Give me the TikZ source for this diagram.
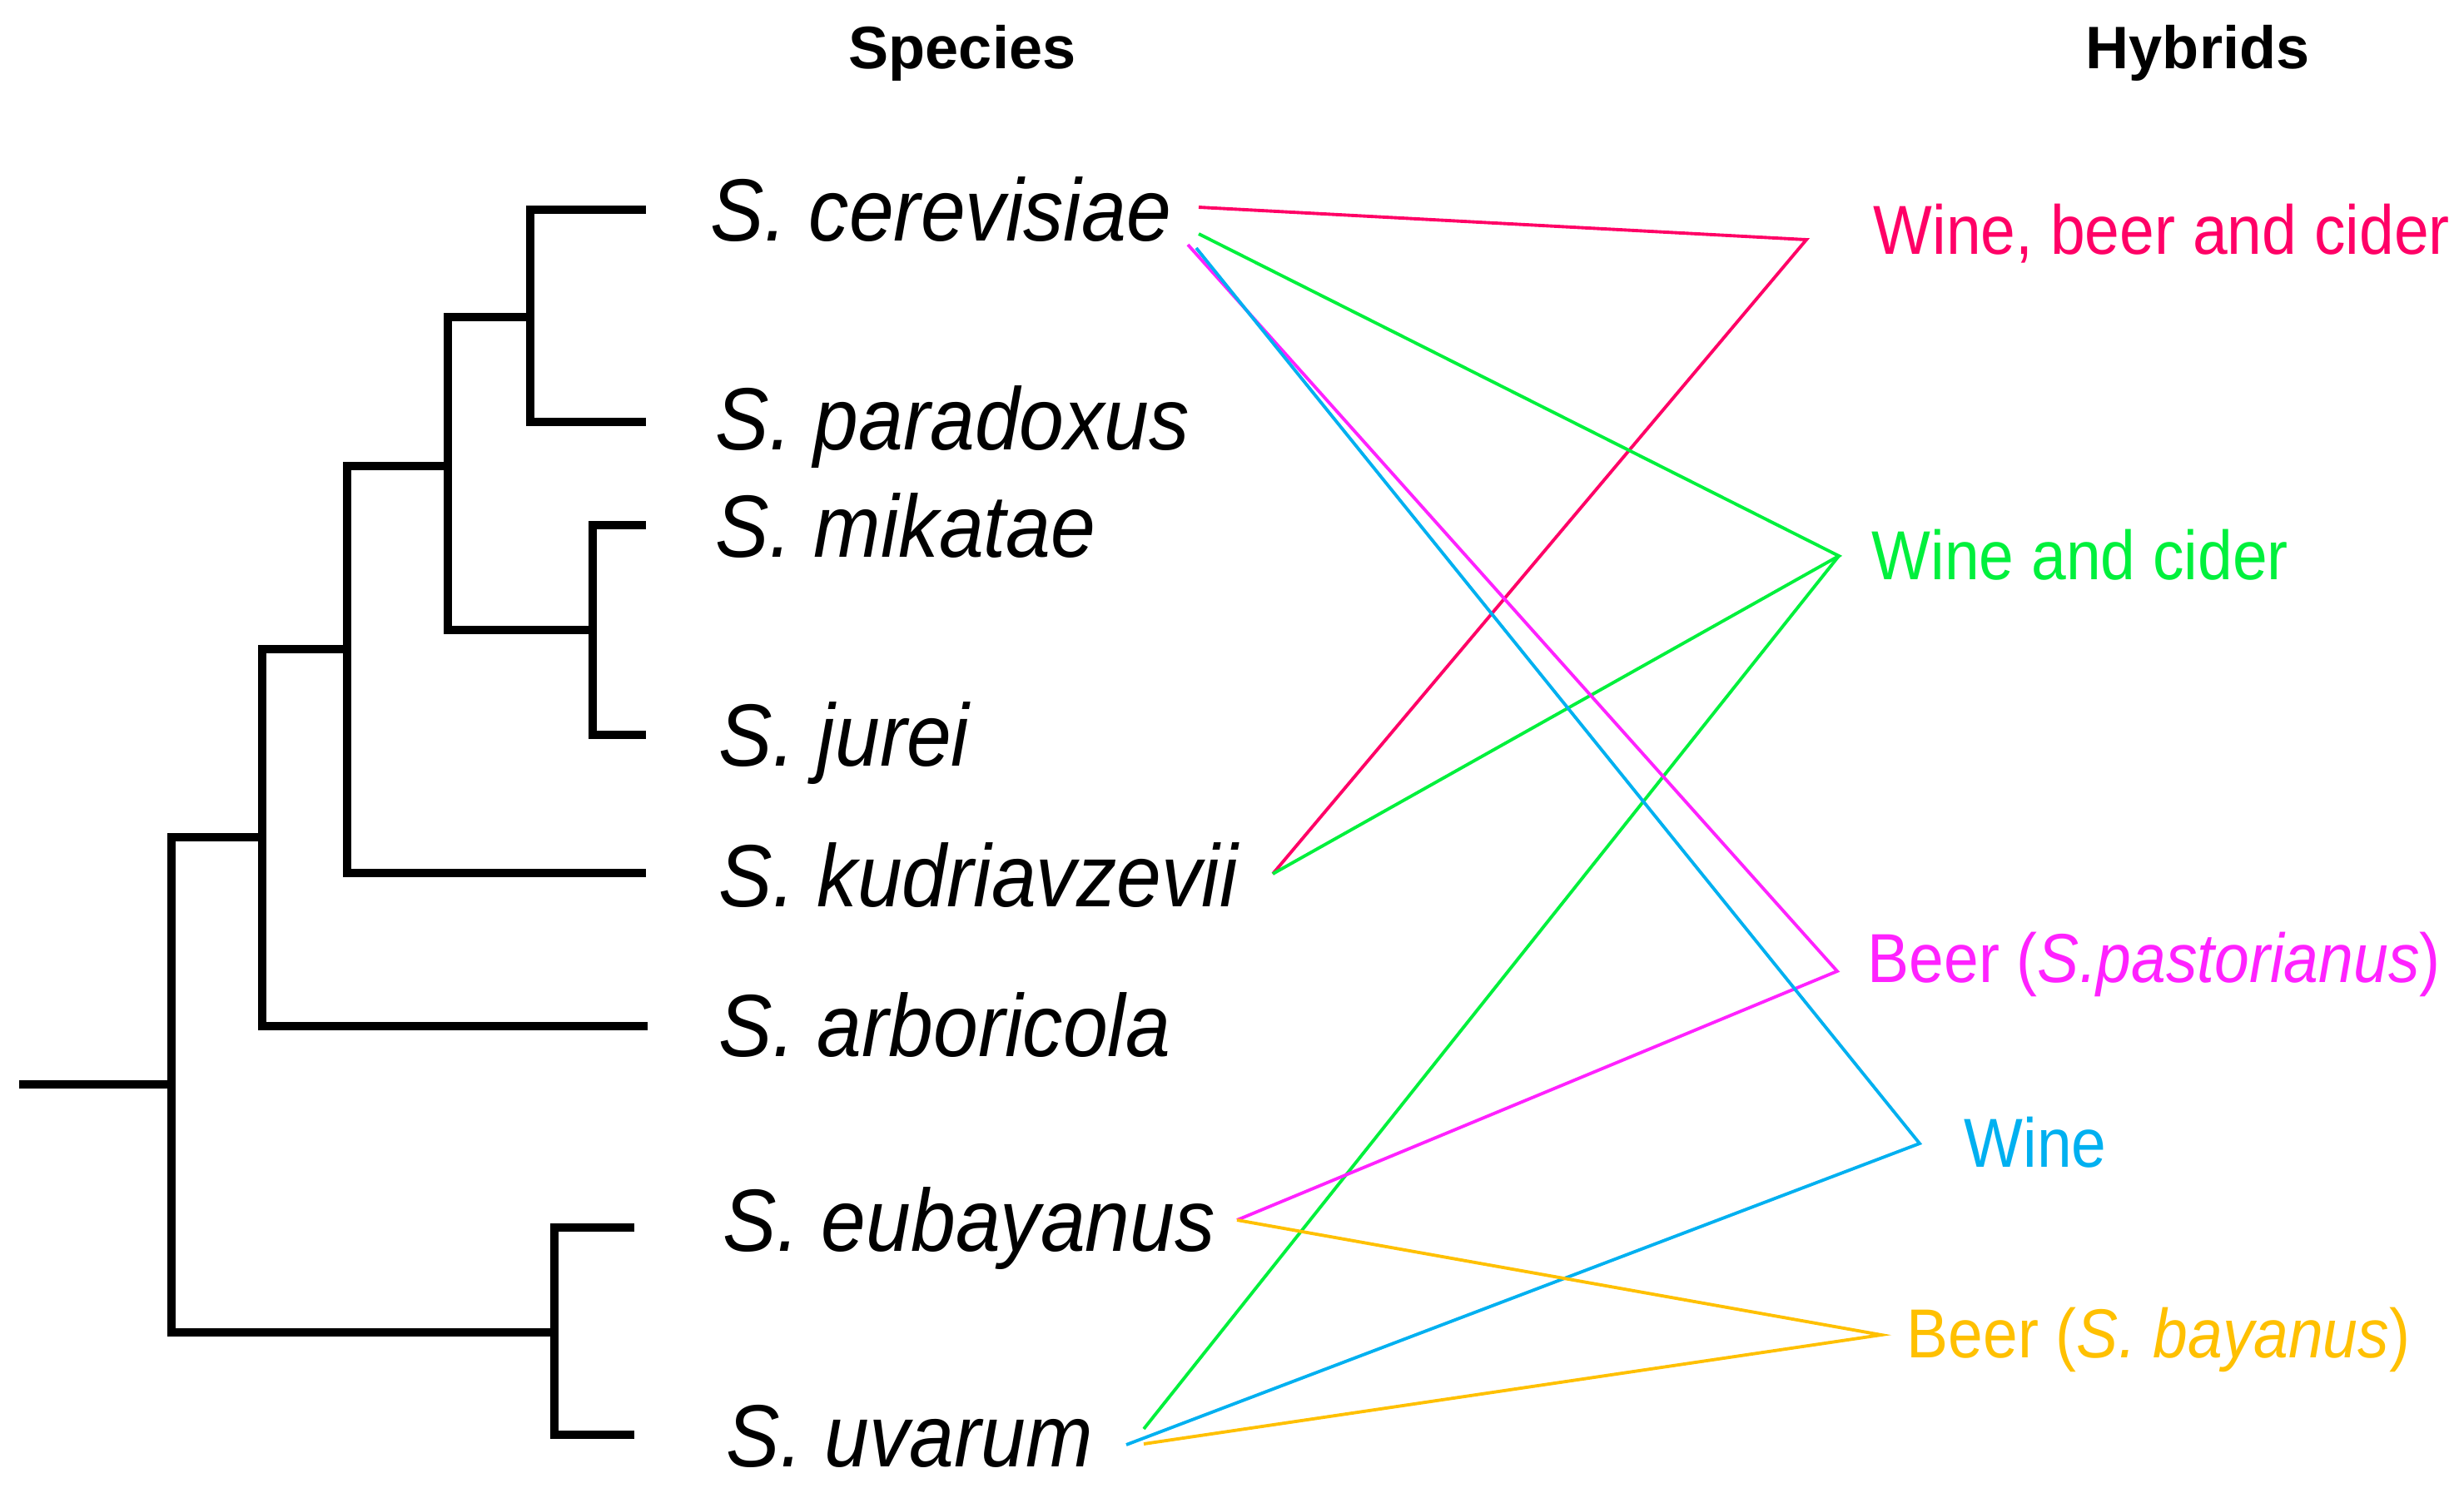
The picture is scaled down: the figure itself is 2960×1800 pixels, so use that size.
\documentclass[tikz,border=0pt]{standalone}
\usepackage{fontspec}
\setmainfont{Liberation Sans}
\newfontfamily\narrowsans[FakeStretch=0.9]{Liberation Sans}
\newfontfamily\speciessans[FakeStretch=0.91]{Liberation Sans}
\usepackage{xcolor}
\usepackage{tikz}
\usetikzlibrary{calc}
\definecolor{wbc}{HTML}{FF0066}
\definecolor{wandc}{HTML}{00F03C}
\definecolor{pasto}{HTML}{FF22FF}
\definecolor{wine}{HTML}{00B0F0}
\definecolor{bayan}{HTML}{FFC000}
\newcommand\speciesfont{\speciessans\fontsize{30.2}{36}\selectfont\itshape}
\newcommand\hybfont{\narrowsans\fontsize{23.7}{29}\selectfont}
\tikzset{
  branch/.style={draw=black, line width=2.8pt, line join=miter},
  link/.style={line width=1.1pt},
  sp/.style={anchor=base west, inner sep=0pt, font=\speciesfont},
  hyb/.style={anchor=base west, inner sep=0pt, font=\hybfont},
  head/.style={anchor=base, inner sep=0pt, font=\fontsize{20.5}{25}\selectfont\bfseries}
}

\begin{document}
\begin{tikzpicture}[x=0.01cm, y=-0.01cm]
  \useasboundingbox (0,0) rectangle (2960,1800);

  % headers
  \node[head] (hsp) at (1156,83) {Species};
  \node[head] (hhy) at (2640,83) {Hybrids};

  % tree
  \draw[branch] (776,252) -| (637,507) -- (776,507);
  \draw[branch] (776,631) -| (712,883) -- (776,883);
  \draw[branch] (637,381) -| (538,757) -- (712,757);
  \draw[branch] (538,560) -| (417,1049) -- (776,1049);
  \draw[branch] (417,780) -| (315,1233) -- (778,1233);
  \draw[branch] (315,1006) -| (206,1601) -- (666,1601);
  \draw[branch] (762,1475) -| (666,1724) -- (762,1724);
  \draw[branch] (23,1303) -- (206,1303);

  % species
  \node[sp] (cer) at (853,290) {S. cerevisiae};
  \node[sp] (par) at (859,540) {S. paradoxus};
  \node[sp] (mik) at (859,669) {S. mikatae};
  \node[sp] (jur) at (863,920) {S. jurei};
  \node[sp] (kud) at (863,1089) {S. kudriavzevii};
  \node[sp] (arb) at (863,1269) {S. arboricola};
  \node[sp] (eub) at (868,1503) {S. eubayanus};
  \node[sp] (uva) at (872,1762) {S. uvarum};

  % hybrids
  \node[hyb, text=wbc] (wbc) at (2250,306) {Wine, beer and cider};
  \node[hyb, text=wandc] (wac) at (2248,696) {Wine and cider};
  \node[hyb, text=pasto] (pas) at (2243,1180) {Beer ({\itshape S.pastorianus})};
  \node[hyb, text=wine] (win) at (2359,1402) {Wine};
  \node[hyb, text=bayan] (bay) at (2290,1631) {Beer ({\itshape S. bayanus})};

  % line ends
  \coordinate (cer-1) at (1440,249);
  \coordinate (cer-2) at (1440,281);
  \coordinate (cer-3) at (1427,294);
  \coordinate (cer-4) at (1437,298);
  \coordinate (kud-1) at (1529,1050);
  \coordinate (eub-1) at (1486,1466);
  \coordinate (uva-1) at (1374,1717);
  \coordinate (uva-2) at (1353,1736);
  \coordinate (uva-3) at (1374,1735);
  \coordinate (wbc-h) at (2170,288);
  \coordinate (wac-h) at (2209,668);
  \coordinate (pas-h) at (2207,1167);
  \coordinate (win-h) at (2306,1374);
  \coordinate (bay-h) at (2260,1604);

  % hybrid links
  \draw[link, wbc] (cer-1) -- (wbc-h) -- (kud-1);
  \draw[link, wandc] (cer-2) -- (wac-h) -- (kud-1);
  \draw[link, wandc] (wac-h) -- (uva-1);
  \draw[link, pasto] (cer-3) -- (pas-h) -- (eub-1);
  \draw[link, wine] (cer-4) -- (win-h) -- (uva-2);
  \draw[link, bayan] (eub-1) -- (bay-h) -- (uva-3);
\end{tikzpicture}
\end{document}
